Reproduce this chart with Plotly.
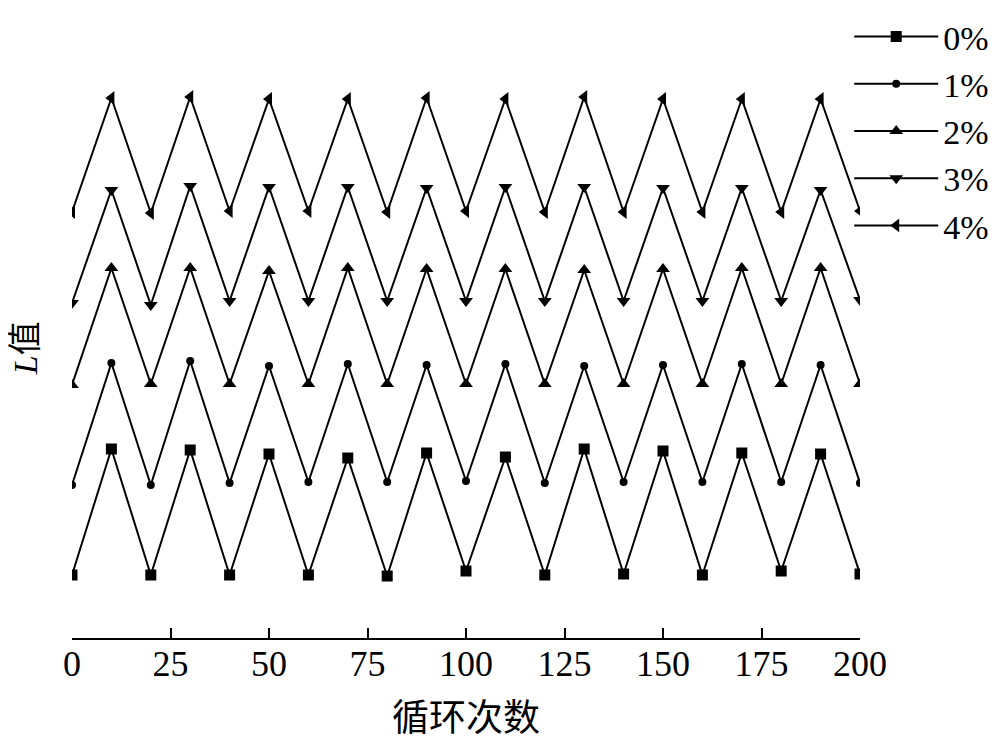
import plotly.graph_objects as go

cycles = [0, 10, 20, 30, 40, 50, 60, 70, 80, 90, 100, 110, 120, 130, 140, 150, 160, 170, 180, 190, 200]
series_names = ["0%", "1%", "2%", "3%", "4%"]
l0 = [6.3, 18.9, 6.3, 18.8, 6.3, 18.4, 6.3, 18.0, 6.2, 18.5, 6.7, 18.1, 6.3, 18.9, 6.4, 18.7, 6.3, 18.5, 6.7, 18.4, 6.4]
l1 = [15.3, 27.5, 15.3, 27.7, 15.5, 27.2, 15.6, 27.4, 15.6, 27.3, 15.7, 27.4, 15.5, 27.2, 15.6, 27.3, 15.6, 27.4, 15.6, 27.3, 15.5]
l2 = [25.3, 37.0, 25.4, 37.0, 25.4, 36.7, 25.4, 37.0, 25.4, 36.9, 25.4, 36.9, 25.4, 36.8, 25.4, 36.9, 25.4, 37.0, 25.4, 37.0, 25.4]
l3 = [33.5, 44.8, 33.3, 45.2, 33.7, 45.1, 33.7, 45.1, 33.7, 45.0, 33.7, 45.1, 33.7, 45.1, 33.7, 45.0, 33.7, 45.0, 33.7, 44.8, 33.8]
l4 = [42.6, 54.0, 42.5, 54.1, 42.7, 53.9, 42.7, 53.9, 42.6, 54.0, 42.7, 53.9, 42.6, 54.1, 42.6, 53.9, 42.6, 53.9, 42.6, 53.9, 42.7]
x_ticks = [0, 25, 50, 75, 100, 125, 150, 175, 200]

values = [l0, l1, l2, l3, l4]
symbols = ["square", "circle", "triangle-up", "triangle-down", "triangle-left"]
sizes = [11, 8, 12, 12, 12]

fig = go.Figure()
for name, ys, sym, sz in zip(series_names, values, symbols, sizes):
    fig.add_trace(go.Scatter(
        x=cycles, y=ys, name=name, mode="lines+markers",
        line=dict(color="black", width=2),
        marker=dict(symbol=sym, size=sz, color="black"),
        cliponaxis=True,
    ))

serif = "Liberation Serif, Times New Roman, serif"
cjk = "Liberation Serif, Noto Sans CJK SC, serif"

fig.update_layout(
    width=992, height=744,
    margin=dict(l=64, r=140, t=70, b=114, autoexpand=False),
    plot_bgcolor="white", paper_bgcolor="white",
    font=dict(family=serif, color="black"),
    legend=dict(
        x=0.848, y=1.0, xanchor="left", yanchor="top",
        xref="container", yref="container",
        font=dict(family=serif, size=34, color="black"),
        bgcolor="rgba(0,0,0,0)", tracegroupgap=0,
        itemwidth=84,
    ),
    xaxis=dict(
        range=[0, 200], tickmode="array", tickvals=x_ticks,
        ticktext=[str(t) for t in x_ticks],
        showline=True, linecolor="black", linewidth=2,
        ticks="inside", ticklen=10, tickwidth=2, tickcolor="black",
        showgrid=False, zeroline=False,
        tickfont=dict(family=serif, size=36, color="black"),
        ticklabelstandoff=-7,
        title=dict(text="循环次数", font=dict(family="Noto Sans CJK SC", size=37, color="black"), standoff=22),
    ),
    yaxis=dict(
        range=[0, 56], showline=False, showticklabels=False, ticks="",
        showgrid=False, zeroline=False,
    ),
    annotations=[dict(
        text="<i>L</i>值", textangle=-90, showarrow=False,
        xref="paper", yref="paper", x=-0.058, y=0.518,
        xanchor="center", yanchor="middle",
        font=dict(family=cjk, size=34, color="black"),
    )],
)

fig.write_html("out.html")
